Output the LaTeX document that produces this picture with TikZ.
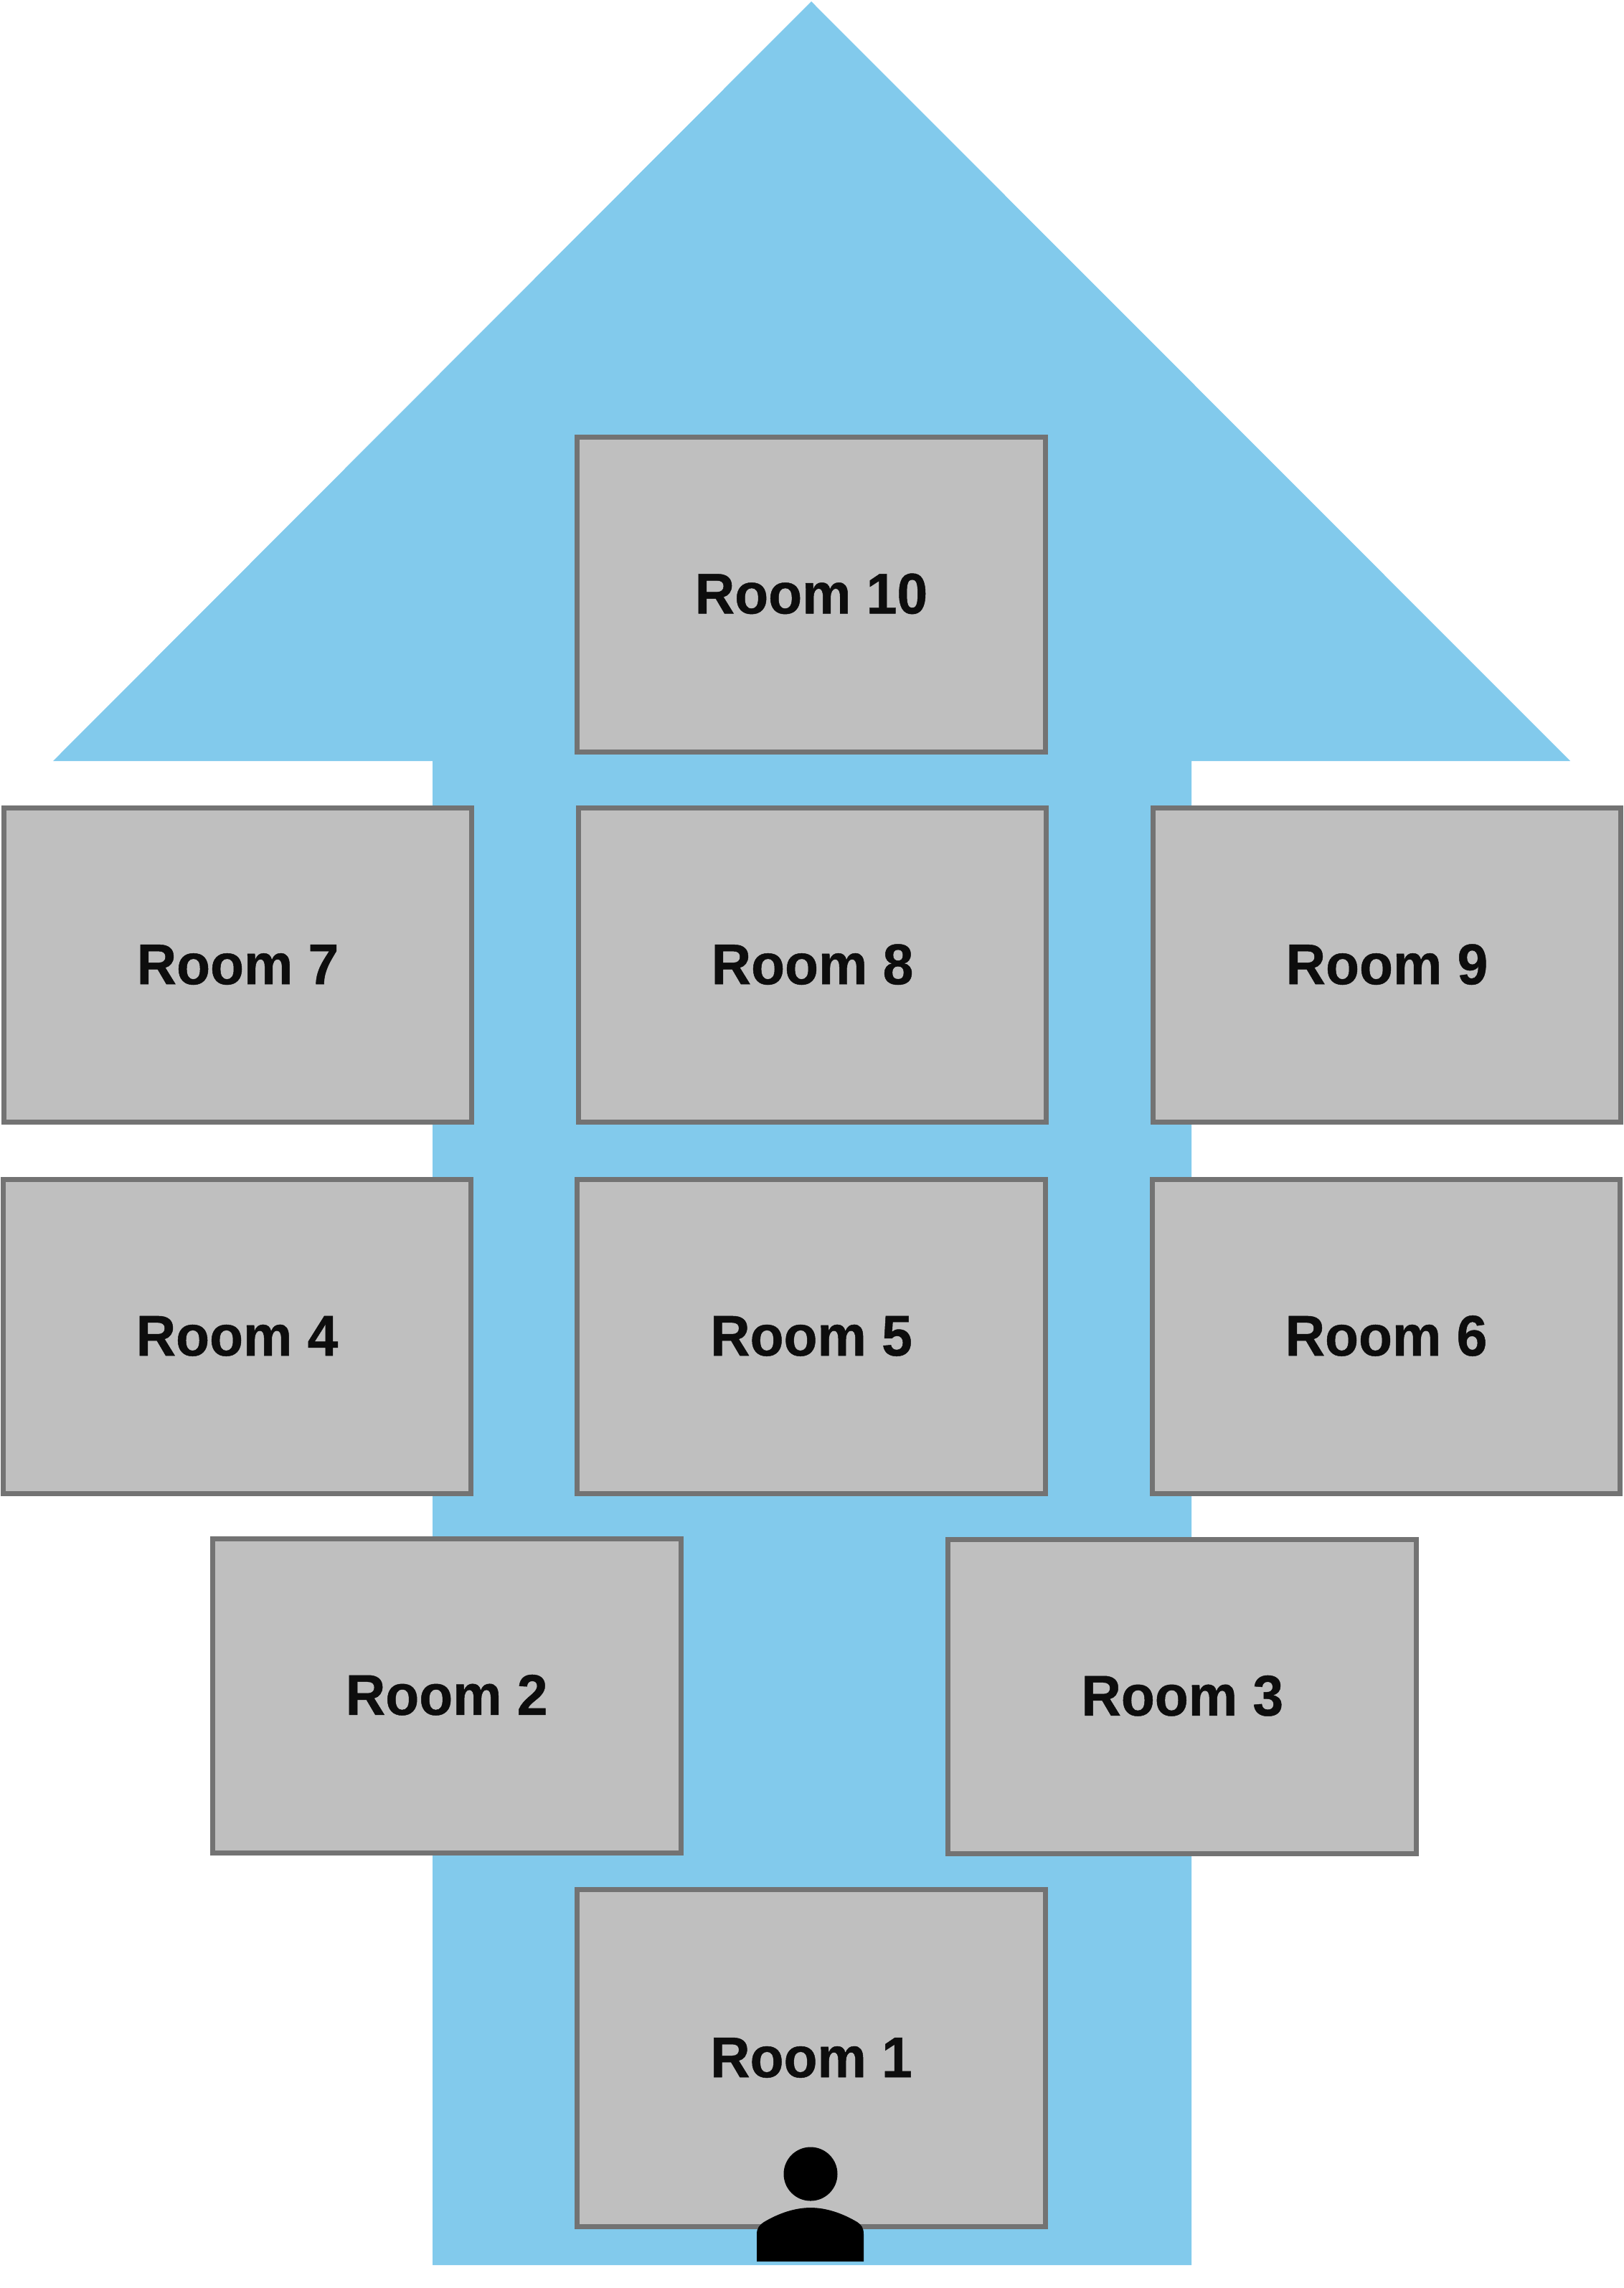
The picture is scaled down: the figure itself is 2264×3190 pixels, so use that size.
\documentclass[tikz,border=0pt]{standalone}
\usepackage{fontspec}
\setmainfont{Liberation Sans}[FakeStretch=0.96,BoldFeatures={FakeBold=0.6}]
\usetikzlibrary{positioning}
\definecolor{corridorblue}{HTML}{82CAEC}
\definecolor{roomgrey}{HTML}{BFBFBF}
\definecolor{wallgrey}{HTML}{737373}
\definecolor{labelblack}{HTML}{0D0D0D}
\tikzstyle{Room} = [
draw=wallgrey,
fill=roomgrey,
text=labelblack,
line width=0.07cm,
minimum width=6.525cm,
minimum height=4.38cm,
inner sep=0pt,
outer sep=0pt,
text height=0.55cm,
text depth=0.02cm,
font=\bfseries\fontsize{22.76}{27}\selectfont]

\begin{document}
\begin{tikzpicture}[x=0.01cm, y=-0.01cm]
    \useasboundingbox (0,0) rectangle (2264,3190);
    \fill[corridorblue] (1131,2) -- (2189,1061) -- (1661,1061) -- (1661,3158)
        -- (603,3158) -- (603,1061) -- (74,1061) -- cycle;
    \node [Room] (5) at (1131,1863.5) {Room 5};
    \node [Room, left =1.475cm of 5] (4) {Room 4};
    \node [Room, right =1.485cm of 5] (6) {Room 6};
    \node [Room, above =0.795cm of 5, xshift=0.015cm] (8) {Room 8};
    \node [Room, left =1.48cm of 8] (7) {Room 7};
    \node [Room, right =1.48cm of 8] (9) {Room 9};
    \node [Room, above =0.785cm of 8, xshift=-0.015cm] (10) {Room 10};
    \node [Room, below =0.625cm of 5, xshift=-5.08cm] (2) {Room 2};
    \node [Room, below =0.635cm of 5, xshift=5.17cm] (3) {Room 3};
    \node [Room, below =5.52cm of 5, minimum height=4.69cm] (1) {Room 1};
    \fill[black] (1130,3031) circle [radius=37.5];
    \fill[black] (1055,3153) -- (1055,3115) .. controls (1055,3106) and (1059,3102) .. (1065,3098)
        .. controls (1085,3086) and (1108,3078) .. (1130,3078)
        .. controls (1152,3078) and (1175,3086) .. (1195,3098)
        .. controls (1201,3102) and (1204,3106) .. (1204,3115) -- (1204,3153) -- cycle;
\end{tikzpicture}
\end{document}
